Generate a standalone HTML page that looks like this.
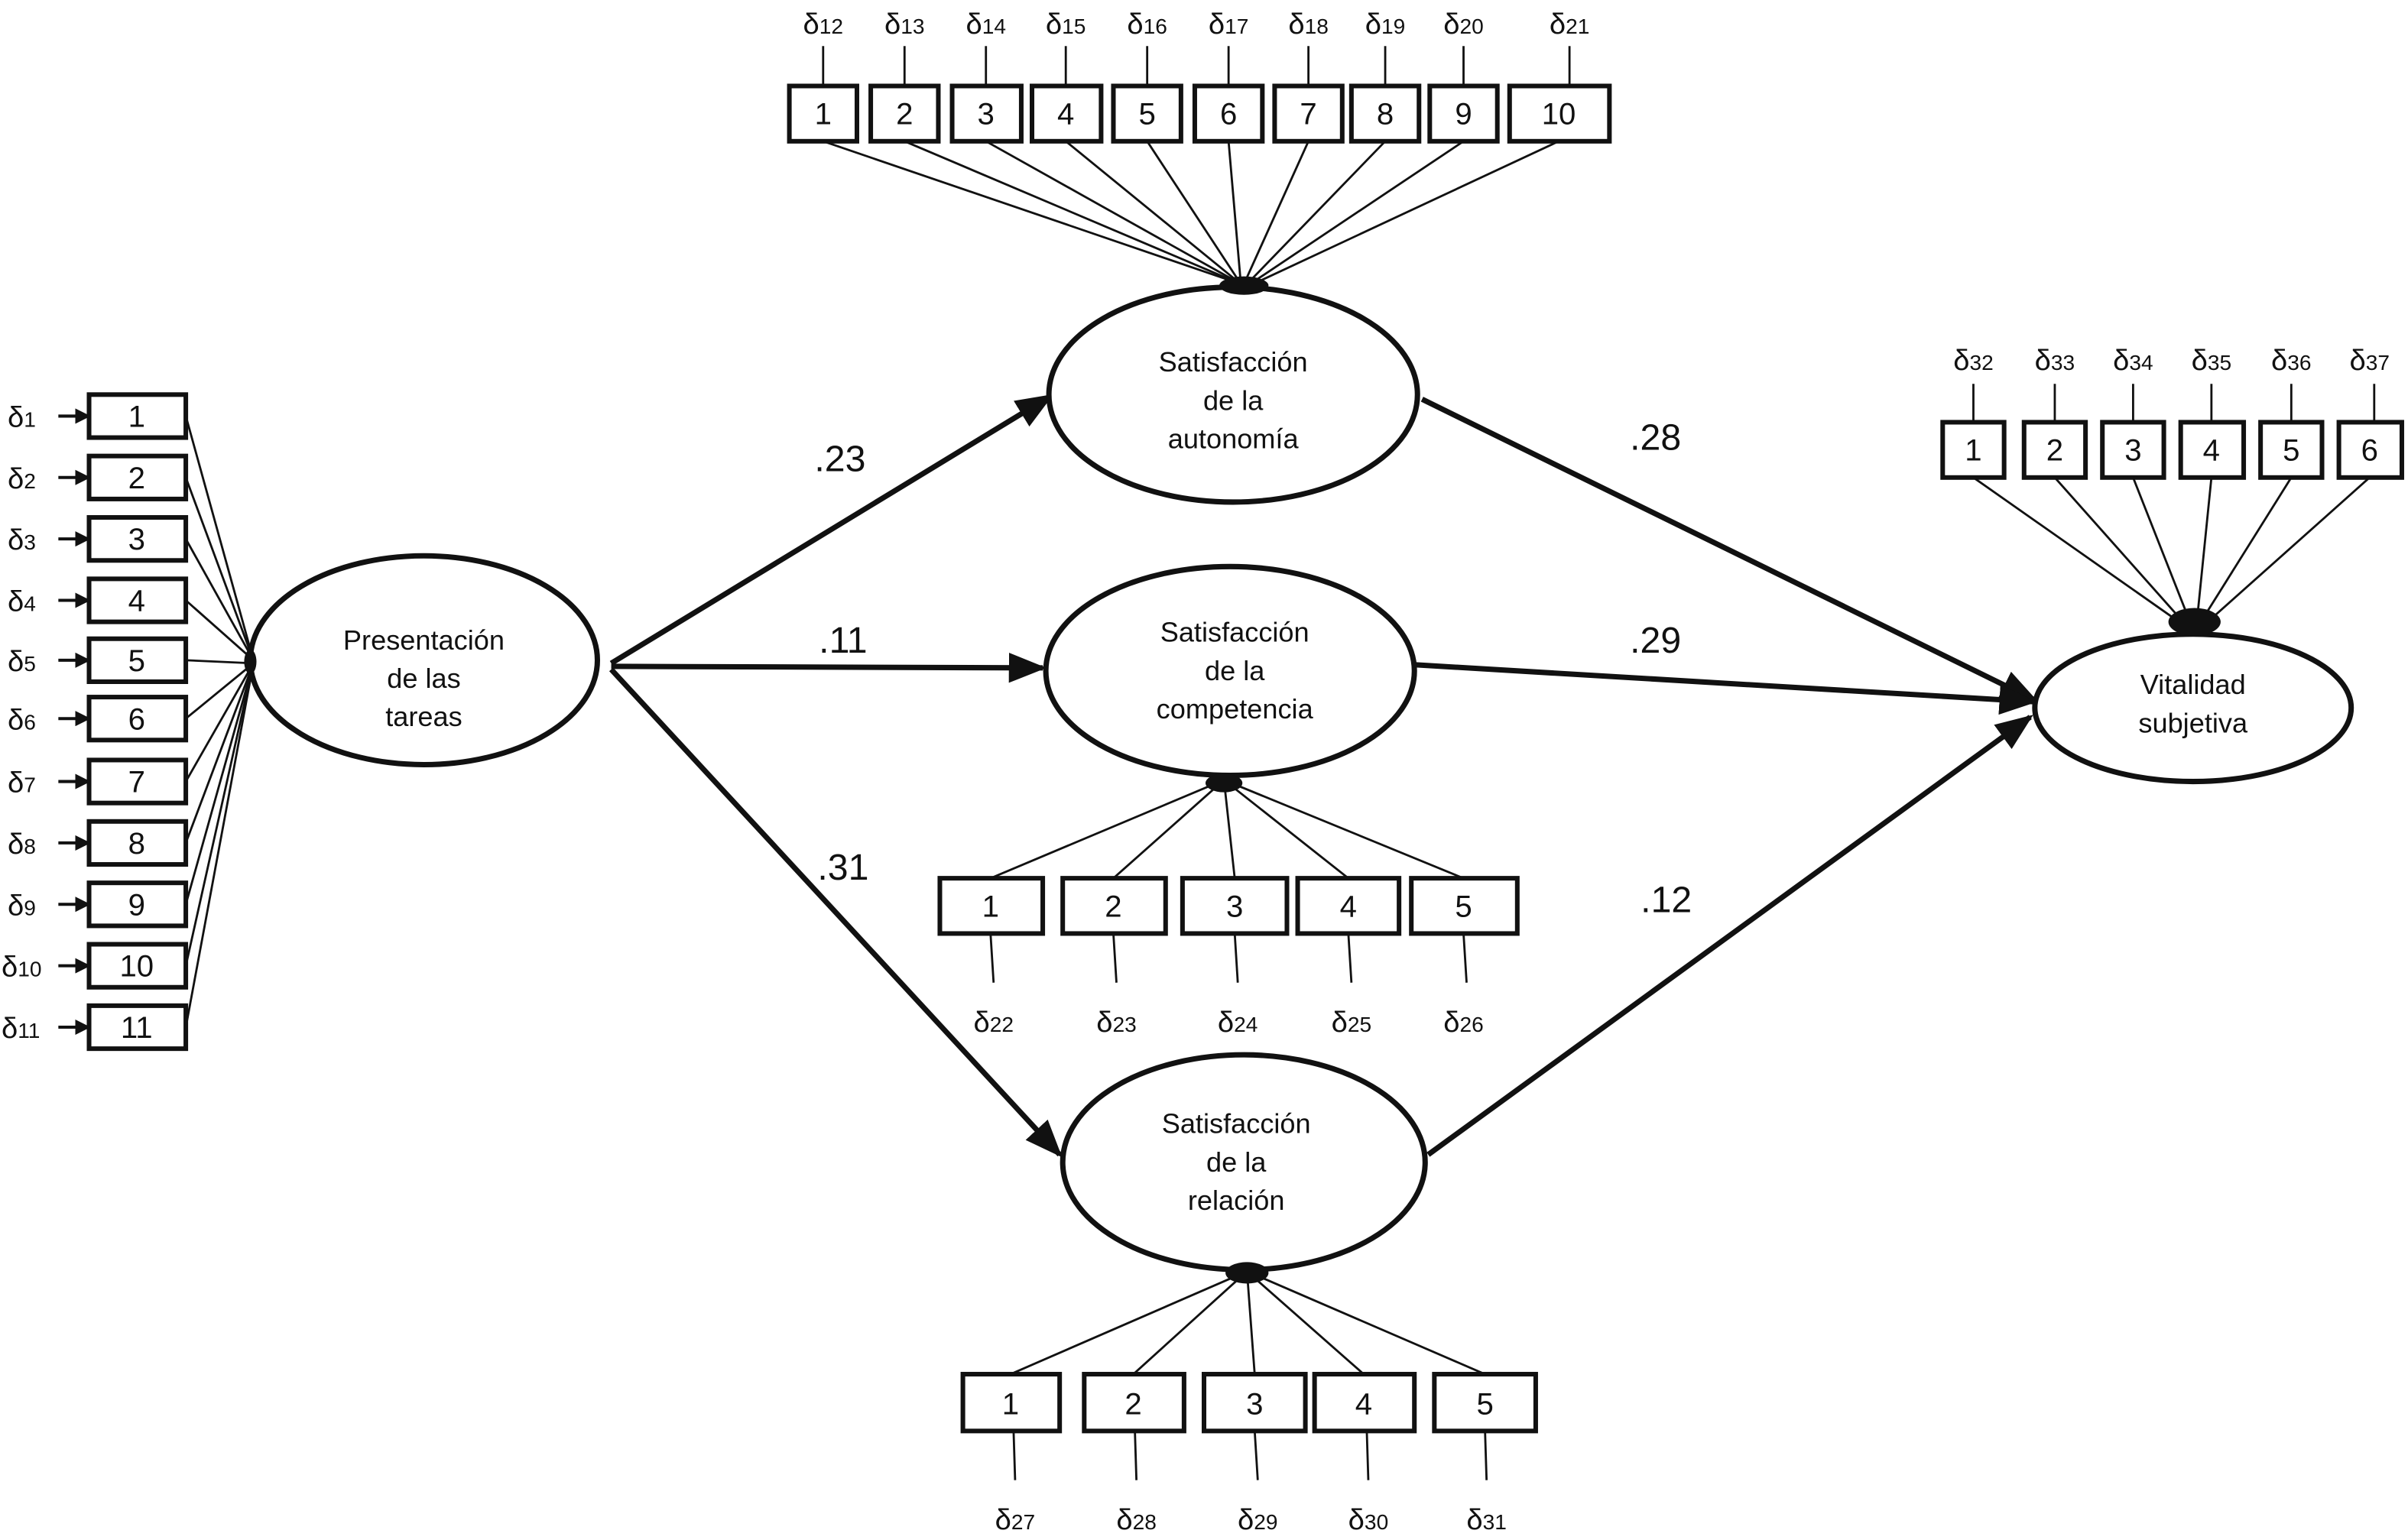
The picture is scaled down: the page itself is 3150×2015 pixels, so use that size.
<!DOCTYPE html>
<html><head><meta charset="utf-8"><style>
html,body{margin:0;padding:0;background:#fff}
svg{display:block}
text{font-family:"Liberation Sans",sans-serif;fill:#111}
</style></head><body>
<svg width="3150" height="2015" viewBox="0 0 1568 1003" preserveAspectRatio="none" xmlns="http://www.w3.org/2000/svg">
<defs>
<marker id="a" viewBox="0 0 10 10" refX="9" refY="5" markerWidth="5" markerHeight="5" orient="auto"><path d="M0,0L10,5L0,10z" fill="#111"/></marker>
<marker id="s" viewBox="0 0 10 10" refX="9" refY="5" markerWidth="7" markerHeight="7" orient="auto"><path d="M0,1L10,5L0,9z" fill="#111"/></marker>
</defs>
<g stroke="#111" fill="none">
<!-- top indicator lines -->
<g stroke-width="1.4">
<line x1="536" y1="92" x2="808" y2="185"/><line x1="589" y1="92" x2="808" y2="185"/><line x1="642" y1="92" x2="808" y2="185"/><line x1="694" y1="92" x2="808" y2="185"/><line x1="747" y1="92" x2="808" y2="185"/><line x1="800" y1="92" x2="808" y2="185"/><line x1="852" y1="92" x2="810" y2="185"/><line x1="902" y1="92" x2="812" y2="185"/><line x1="953" y1="92" x2="814" y2="185"/><line x1="1015" y1="92" x2="816" y2="185"/>
<!-- left -->
<line x1="121" y1="271" x2="165" y2="430"/><line x1="121" y1="311" x2="165" y2="430"/><line x1="121" y1="351" x2="165" y2="430"/><line x1="121" y1="391" x2="165" y2="430"/><line x1="121" y1="430" x2="165" y2="432"/><line x1="121" y1="468" x2="165" y2="432"/><line x1="121" y1="509" x2="165" y2="432"/><line x1="121" y1="549" x2="165" y2="432"/><line x1="121" y1="589" x2="165" y2="432"/><line x1="121" y1="629" x2="165" y2="432"/><line x1="121" y1="669" x2="165" y2="432"/>
<!-- competencia -->
<line x1="645" y1="572" x2="797" y2="508"/><line x1="725" y1="572" x2="797" y2="508"/><line x1="804" y1="572" x2="797" y2="508"/><line x1="878" y1="572" x2="797" y2="508"/><line x1="953" y1="572" x2="797" y2="508"/>
<!-- relacion -->
<line x1="658" y1="895" x2="812" y2="828"/><line x1="738" y1="895" x2="812" y2="828"/><line x1="817" y1="895" x2="812" y2="828"/><line x1="888" y1="895" x2="812" y2="828"/><line x1="967" y1="895" x2="812" y2="828"/>
<!-- vitalidad -->
<line x1="1285" y1="311" x2="1426" y2="410"/><line x1="1338" y1="311" x2="1426" y2="410"/><line x1="1389" y1="311" x2="1428" y2="410"/><line x1="1440" y1="311" x2="1430" y2="410"/><line x1="1492" y1="311" x2="1430" y2="410"/><line x1="1543" y1="311" x2="1432" y2="410"/>
<!-- error stubs -->
<line x1="536" y1="30" x2="536" y2="56"/><line x1="589" y1="30" x2="589" y2="56"/><line x1="642" y1="30" x2="642" y2="56"/><line x1="694" y1="30" x2="694" y2="56"/><line x1="747" y1="30" x2="747" y2="56"/><line x1="800" y1="30" x2="800" y2="56"/><line x1="852" y1="30" x2="852" y2="56"/><line x1="902" y1="30" x2="902" y2="56"/><line x1="953" y1="30" x2="953" y2="56"/><line x1="1022" y1="30" x2="1022" y2="56"/>
<line x1="645" y1="608" x2="647" y2="640"/><line x1="725" y1="608" x2="727" y2="640"/><line x1="804" y1="608" x2="806" y2="640"/><line x1="878" y1="608" x2="880" y2="640"/><line x1="953" y1="608" x2="955" y2="640"/>
<line x1="660" y1="932" x2="661" y2="964"/><line x1="739" y1="932" x2="740" y2="964"/><line x1="817" y1="932" x2="819" y2="964"/><line x1="890" y1="932" x2="891" y2="964"/><line x1="967" y1="932" x2="968" y2="964"/>
<line x1="1285" y1="250" x2="1285" y2="275"/><line x1="1338" y1="250" x2="1338" y2="275"/><line x1="1389" y1="250" x2="1389" y2="275"/><line x1="1440" y1="250" x2="1440" y2="275"/><line x1="1492" y1="250" x2="1492" y2="275"/><line x1="1546" y1="250" x2="1546" y2="275"/>
</g>
<!-- left error arrows -->
<g stroke-width="2" marker-end="url(#a)">
<line x1="38" y1="271" x2="58" y2="271"/><line x1="38" y1="311" x2="58" y2="311"/><line x1="38" y1="351" x2="58" y2="351"/><line x1="38" y1="391" x2="58" y2="391"/><line x1="38" y1="430" x2="58" y2="430"/><line x1="38" y1="468" x2="58" y2="468"/><line x1="38" y1="509" x2="58" y2="509"/><line x1="38" y1="549" x2="58" y2="549"/><line x1="38" y1="589" x2="58" y2="589"/><line x1="38" y1="629" x2="58" y2="629"/><line x1="38" y1="669" x2="58" y2="669"/>
</g>
<!-- structural paths -->
<g stroke-width="3.5" marker-end="url(#s)">
<line x1="398" y1="432" x2="684" y2="258"/>
<line x1="398" y1="434" x2="679" y2="435"/>
<line x1="398" y1="436" x2="690" y2="752"/>
<line x1="926" y1="260" x2="1325" y2="456"/>
<line x1="922" y1="433" x2="1324" y2="457"/>
<line x1="930" y1="752" x2="1322" y2="467"/>
</g>
<!-- ellipses -->
<g stroke-width="3.5" fill="#fff">
<ellipse cx="803" cy="257" rx="120" ry="70"/>
<ellipse cx="801" cy="437" rx="120" ry="68"/>
<ellipse cx="810" cy="757" rx="118" ry="70"/>
<ellipse cx="276" cy="430" rx="113" ry="68"/>
<ellipse cx="1428" cy="461" rx="103" ry="48"/>
</g>
<!-- boxes -->
<g stroke-width="3" fill="#fff">
<rect x="514" y="56" width="44" height="36"/><rect x="567" y="56" width="44" height="36"/><rect x="620" y="56" width="45" height="36"/><rect x="672" y="56" width="45" height="36"/><rect x="725" y="56" width="44" height="36"/><rect x="778" y="56" width="44" height="36"/><rect x="830" y="56" width="44" height="36"/><rect x="880" y="56" width="44" height="36"/><rect x="931" y="56" width="44" height="36"/><rect x="983" y="56" width="65" height="36"/>
<rect x="58" y="257" width="63" height="28"/><rect x="58" y="297" width="63" height="28"/><rect x="58" y="337" width="63" height="28"/><rect x="58" y="377" width="63" height="28"/><rect x="58" y="416" width="63" height="28"/><rect x="58" y="454" width="63" height="28"/><rect x="58" y="495" width="63" height="28"/><rect x="58" y="535" width="63" height="28"/><rect x="58" y="575" width="63" height="28"/><rect x="58" y="615" width="63" height="28"/><rect x="58" y="655" width="63" height="28"/>
<rect x="612" y="572" width="67" height="36"/><rect x="692" y="572" width="67" height="36"/><rect x="770" y="572" width="68" height="36"/><rect x="845" y="572" width="66" height="36"/><rect x="919" y="572" width="69" height="36"/>
<rect x="627" y="895" width="63" height="37"/><rect x="706" y="895" width="65" height="37"/><rect x="784" y="895" width="66" height="37"/><rect x="856" y="895" width="65" height="37"/><rect x="934" y="895" width="66" height="37"/>
<rect x="1265" y="275" width="40" height="36"/><rect x="1318" y="275" width="40" height="36"/><rect x="1369" y="275" width="40" height="36"/><rect x="1420" y="275" width="41" height="36"/><rect x="1472" y="275" width="40" height="36"/><rect x="1523" y="275" width="41" height="36"/>
</g>
<!-- blobs at convergence -->
<g fill="#111" stroke="none">
<ellipse cx="810" cy="186" rx="16" ry="6"/>
<ellipse cx="797" cy="510" rx="12" ry="6"/>
<ellipse cx="812" cy="829" rx="14" ry="7"/>
<ellipse cx="1429" cy="405" rx="17" ry="9"/>
<ellipse cx="163" cy="431" rx="4" ry="8"/>
</g>
</g>
<!-- text -->
<g font-size="20" text-anchor="middle">
<text x="536" y="81">1</text><text x="589" y="81">2</text><text x="642" y="81">3</text><text x="694" y="81">4</text><text x="747" y="81">5</text><text x="800" y="81">6</text><text x="852" y="81">7</text><text x="902" y="81">8</text><text x="953" y="81">9</text><text x="1015" y="81">10</text>
<text x="89" y="278">1</text><text x="89" y="318">2</text><text x="89" y="358">3</text><text x="89" y="398">4</text><text x="89" y="437">5</text><text x="89" y="475">6</text><text x="89" y="516">7</text><text x="89" y="556">8</text><text x="89" y="596">9</text><text x="89" y="636">10</text><text x="89" y="676">11</text>
<text x="645" y="597">1</text><text x="725" y="597">2</text><text x="804" y="597">3</text><text x="878" y="597">4</text><text x="953" y="597">5</text>
<text x="658" y="921">1</text><text x="738" y="921">2</text><text x="817" y="921">3</text><text x="888" y="921">4</text><text x="967" y="921">5</text>
<text x="1285" y="300">1</text><text x="1338" y="300">2</text><text x="1389" y="300">3</text><text x="1440" y="300">4</text><text x="1492" y="300">5</text><text x="1543" y="300">6</text>
</g>
<g font-size="18" text-anchor="middle">
<text x="803" y="242">Satisfacción</text><text x="803" y="267">de la</text><text x="803" y="292">autonomía</text>
<text x="804" y="418">Satisfacción</text><text x="804" y="443">de la</text><text x="804" y="468">competencia</text>
<text x="805" y="738">Satisfacción</text><text x="805" y="763">de la</text><text x="805" y="788">relación</text>
<text x="276" y="423">Presentación</text><text x="276" y="448">de las</text><text x="276" y="473">tareas</text>
<text x="1428" y="452">Vitalidad</text><text x="1428" y="477">subjetiva</text>
</g>
<g font-size="24" text-anchor="middle">
<text x="547" y="307">.23</text><text x="549" y="425">.11</text><text x="549" y="573">.31</text>
<text x="1078" y="293">.28</text><text x="1078" y="425">.29</text><text x="1085" y="594">.12</text>
</g>
<g font-size="19" text-anchor="middle">
<text x="536" y="22">δ<tspan font-size="14">12</tspan></text><text x="589" y="22">δ<tspan font-size="14">13</tspan></text><text x="642" y="22">δ<tspan font-size="14">14</tspan></text><text x="694" y="22">δ<tspan font-size="14">15</tspan></text><text x="747" y="22">δ<tspan font-size="14">16</tspan></text><text x="800" y="22">δ<tspan font-size="14">17</tspan></text><text x="852" y="22">δ<tspan font-size="14">18</tspan></text><text x="902" y="22">δ<tspan font-size="14">19</tspan></text><text x="953" y="22">δ<tspan font-size="14">20</tspan></text><text x="1022" y="22">δ<tspan font-size="14">21</tspan></text>
<text x="647" y="672">δ<tspan font-size="14">22</tspan></text><text x="727" y="672">δ<tspan font-size="14">23</tspan></text><text x="806" y="672">δ<tspan font-size="14">24</tspan></text><text x="880" y="672">δ<tspan font-size="14">25</tspan></text><text x="953" y="672">δ<tspan font-size="14">26</tspan></text>
<text x="661" y="996">δ<tspan font-size="14">27</tspan></text><text x="740" y="996">δ<tspan font-size="14">28</tspan></text><text x="819" y="996">δ<tspan font-size="14">29</tspan></text><text x="891" y="996">δ<tspan font-size="14">30</tspan></text><text x="968" y="996">δ<tspan font-size="14">31</tspan></text>
<text x="1285" y="241">δ<tspan font-size="14">32</tspan></text><text x="1338" y="241">δ<tspan font-size="14">33</tspan></text><text x="1389" y="241">δ<tspan font-size="14">34</tspan></text><text x="1440" y="241">δ<tspan font-size="14">35</tspan></text><text x="1492" y="241">δ<tspan font-size="14">36</tspan></text><text x="1543" y="241">δ<tspan font-size="14">37</tspan></text>
</g>
<g font-size="19" text-anchor="start">
<text x="5" y="278">δ<tspan font-size="14">1</tspan></text><text x="5" y="318">δ<tspan font-size="14">2</tspan></text><text x="5" y="358">δ<tspan font-size="14">3</tspan></text><text x="5" y="398">δ<tspan font-size="14">4</tspan></text><text x="5" y="437">δ<tspan font-size="14">5</tspan></text><text x="5" y="475">δ<tspan font-size="14">6</tspan></text><text x="5" y="516">δ<tspan font-size="14">7</tspan></text><text x="5" y="556">δ<tspan font-size="14">8</tspan></text><text x="5" y="596">δ<tspan font-size="14">9</tspan></text><text x="1" y="636">δ<tspan font-size="14">10</tspan></text><text x="1" y="676">δ<tspan font-size="14">11</tspan></text>
</g>
</svg>
</body></html>
